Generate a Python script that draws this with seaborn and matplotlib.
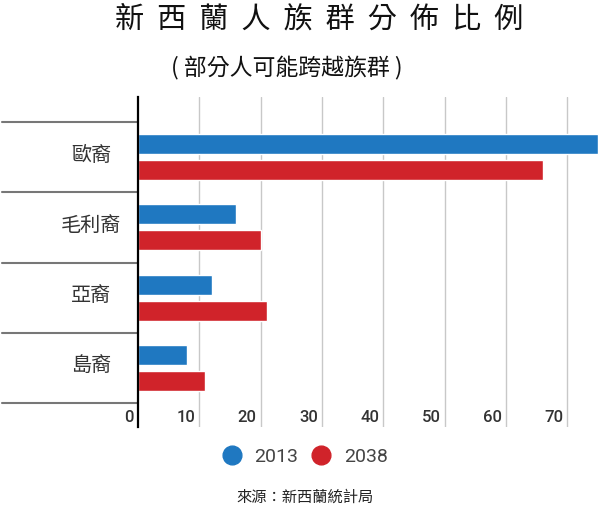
import pandas as pd
import matplotlib
matplotlib.use("Agg")
import matplotlib.pyplot as plt
import matplotlib.transforms as mtransforms
from matplotlib.lines import Line2D
import seaborn as sns

groups = ["歐裔", "毛利裔", "亞裔", "島裔"]
years = ["2013", "2038"]
values_2013 = [75, 16, 12, 8]
values_2038 = [66, 20, 21, 11]
x_ticks = [0, 10, 20, 30, 40, 50, 60, 70]

BLUE = "#1f78c1"
RED = "#d0232a"

sns.set_theme(style="white")
plt.rcParams["font.family"] = ["Noto Sans CJK TC", "DejaVu Sans"]

df = pd.DataFrame({
    "group": groups * 2,
    "year": [years[0]] * len(groups) + [years[1]] * len(groups),
    "value": values_2013 + values_2038,
})

fig = plt.figure(figsize=(6, 5.07), dpi=100)
ax = fig.add_axes([138 / 600, 1 - 427 / 507, 1 - 138 / 600, (427 - 97) / 507])

sns.barplot(data=df, x="value", y="group", hue="year", hue_order=years,
            palette=[BLUE, RED], saturation=1, orient="h", width=0.74,
            gap=0.23, legend=False, ax=ax)

ax.set_xlim(0, 75.3)
ax.set_ylim(3.84, -0.856)
ax.set_xlabel("")
ax.set_ylabel("")
ax.set_xticks([])
ax.set_yticks([])

# gridlines
for v in x_ticks[1:]:
    ax.axvline(v, color="#c8c8c8", lw=1, zorder=0)

for s in ["top", "right", "bottom"]:
    ax.spines[s].set_visible(False)
ax.spines["left"].set_color("black")
ax.spines["left"].set_linewidth(1.6)

# x tick labels inside the plot, left of each gridline
for v in x_ticks:
    ax.text(v - 0.7, 3.71, str(v), ha="right", va="center", fontsize=12,
            fontweight="medium", color="#333333",
            family=["Roboto", "DejaVu Sans"])

# category labels and separators on the left
trans = mtransforms.blended_transform_factory(fig.transFigure, ax.transData)
for i, g in enumerate(groups):
    ax.text(91 / 600, i - 0.03, g, transform=trans, ha="center", va="center",
            fontsize=14.5, fontweight="medium", color="#333333", clip_on=False)
for i in range(len(groups) + 1):
    ax.plot([2 / 600, 137 / 600], [i - 0.5, i - 0.5], transform=trans,
            color="#777777", lw=1.5, clip_on=False)

# titles
fig.text(319 / 600, 1 - 20 / 507, "  ".join("新西蘭人族群分佈比例"),
         ha="center", va="center", fontsize=21, fontweight="medium",
         color="#111111")
fig.text(287 / 600, 1 - 68 / 507, "( 部分人可能跨越族群 )",
         ha="center", va="center", fontsize=16.5, color="#111111")

# legend
handles = [Line2D([], [], marker="o", ls="none", markersize=13.5,
                  markerfacecolor=c, markeredgecolor=c) for c in [BLUE, RED]]
leg = fig.legend(handles, years, loc="center", ncol=2,
                 bbox_to_anchor=(305 / 600, 1 - 457 / 507), frameon=False,
                 fontsize=14, handlelength=1.0, handletextpad=0.67,
                 columnspacing=0.67, labelcolor="#444444")
for t in leg.get_texts():
    t.set_family(["Roboto", "DejaVu Sans"])

fig.text(305 / 600, 1 - 497 / 507, "來源：新西蘭統計局",
         ha="center", va="center", fontsize=11, color="#222222")

fig.savefig("out.png", dpi=100)
